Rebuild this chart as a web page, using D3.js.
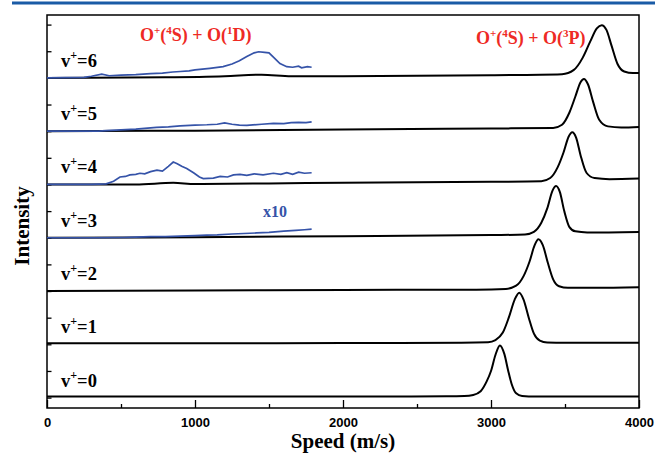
<!DOCTYPE html>
<html><head><meta charset="utf-8">
<script src="https://cdn.jsdelivr.net/npm/d3@7"></script>
<style>body{margin:0;background:#fff}svg{display:block}</style>
</head><body>
<svg id="c" width="655" height="454"></svg>
<script>
// ---------- DATA ----------
const levels = ["0","1","2","3","4","5","6"];
const xTicksMajor = [0,1000,2000,3000,4000];
const xTicksMinor = [500,1500,2500,3500];
// black traces: [speed, intensity above its own baseline]
const black0 = [[0,0.02],[1000,0.02],[2000,0.02],[2700,0.025],[2820,0.03],[2880,0.05],[2930,0.12],[2970,0.3],[3000,0.5],[3030,0.8],[3060,0.98],[3090,0.82],[3115,0.52],[3140,0.25],[3170,0.08],[3210,0.03],[3300,0.02],[4000,0.02]];
const black1 = [[0,0.02],[1000,0.02],[2000,0.025],[2800,0.03],[2980,0.04],[3030,0.08],[3080,0.22],[3120,0.5],[3160,0.84],[3191,0.97],[3220,0.84],[3255,0.5],[3290,0.2],[3330,0.07],[3380,0.035],[3500,0.03],[4000,0.03]];
const black2 = [[0,0.0],[1000,0.01],[2000,0.02],[2900,0.025],[3100,0.04],[3170,0.1],[3220,0.28],[3260,0.55],[3295,0.86],[3320,0.97],[3350,0.86],[3385,0.52],[3420,0.22],[3460,0.09],[3520,0.06],[3700,0.06],[4000,0.07]];
const black3 = [[0,0.0],[1000,0.01],[2000,0.03],[3000,0.05],[3230,0.06],[3290,0.11],[3340,0.28],[3380,0.55],[3415,0.88],[3440,0.97],[3465,0.86],[3495,0.5],[3530,0.2],[3570,0.12],[3650,0.1],[4000,0.11]];
const black4 = [[0,0.0],[600,0.0],[853,0.03],[1000,0.01],[1500,0.02],[2000,0.03],[3000,0.05],[3340,0.06],[3400,0.12],[3450,0.32],[3490,0.6],[3525,0.9],[3549,0.98],[3575,0.88],[3605,0.55],[3645,0.22],[3700,0.12],[3800,0.1],[4000,0.11]];
const black5 = [[0,0.0],[1000,0.01],[2000,0.03],[3000,0.05],[3420,0.06],[3480,0.12],[3530,0.35],[3570,0.65],[3605,0.92],[3628,0.98],[3655,0.88],[3690,0.55],[3730,0.22],[3790,0.09],[3880,0.07],[4000,0.08]];
const black6 = [[0,0.0],[800,0.01],[1200,0.03],[1450,0.06],[1650,0.03],[2000,0.03],[3000,0.05],[3480,0.07],[3560,0.15],[3620,0.38],[3670,0.68],[3715,0.93],[3748,0.99],[3780,0.9],[3815,0.6],[3855,0.26],[3900,0.12],[3960,0.09],[4000,0.09]];
const blackTraces = [black0,black1,black2,black3,black4,black5,black6];
// blue (x10) traces
const blue3 = [[0,0],[300,0.0],[515,0.005],[600,0.01],[700,0.02],[800,0.02],[900,0.03],[1000,0.04],[1079,0.05],[1150,0.055],[1250,0.07],[1330,0.08],[1417,0.09],[1500,0.1],[1600,0.125],[1680,0.14],[1740,0.15],[1788,0.16]];
const blue4 = [[0,0],[300,0.0],[400,0.01],[450,0.06],[493,0.14],[530,0.15],[560,0.18],[600,0.19],[628,0.21],[660,0.2],[700,0.24],[743,0.27],[780,0.25],[820,0.34],[853,0.42],[880,0.39],[910,0.34],[944,0.3],[990,0.22],[1030,0.14],[1056,0.11],[1124,0.12],[1170,0.15],[1220,0.14],[1260,0.18],[1304,0.19],[1350,0.17],[1400,0.2],[1460,0.18],[1530,0.21],[1580,0.19],[1620,0.22],[1660,0.19],[1700,0.23],[1740,0.21],[1788,0.22]];
const blue5 = [[0,0],[350,0.0],[400,0.01],[500,0.025],[600,0.04],[740,0.07],[820,0.08],[900,0.1],[1000,0.115],[1080,0.12],[1150,0.13],[1200,0.155],[1250,0.13],[1300,0.115],[1350,0.11],[1450,0.13],[1530,0.145],[1600,0.14],[1650,0.16],[1700,0.165],[1750,0.16],[1788,0.175]];
const blue6 = [[0,0],[250,0.01],[300,0.03],[370,0.07],[420,0.04],[500,0.05],[600,0.06],[700,0.08],[780,0.09],[850,0.11],[900,0.12],[960,0.13],[1000,0.15],[1100,0.18],[1190,0.21],[1250,0.26],[1300,0.32],[1350,0.4],[1400,0.47],[1430,0.49],[1470,0.48],[1500,0.47],[1540,0.36],[1574,0.27],[1620,0.21],[1660,0.2],[1700,0.22],[1720,0.19],[1760,0.21],[1788,0.2]];
const blueTraces = [[3,blue3],[4,blue4],[5,blue5],[6,blue6]];

// ---------- CHART ----------
const svg = d3.select("#c");
const x = d3.scaleLinear().domain([0,4000]).range([47,639]);
const y = d3.scaleLinear().domain([-0.195,7.18]).range([408,15]);

// top rule
svg.append("line").attr("x1",12).attr("x2",655).attr("y1",3).attr("y2",3)
  .attr("stroke","#1a5ba6").attr("stroke-width",3);

const g = svg.append("g");
// frame
g.append("rect").attr("x",x(0)).attr("y",y(7.18)).attr("width",x(4000)-x(0)).attr("height",y(-0.195)-y(7.18))
  .attr("fill","none").attr("stroke","#000").attr("stroke-width",1.5);

// bottom axis (ticks inward)
const xAxis = d3.axisBottom(x).tickValues(xTicksMajor).tickSize(-8).tickPadding(10).tickFormat(d3.format("d"));
const ax = g.append("g").attr("transform",`translate(0,${y(-0.195)})`).call(xAxis);
ax.select(".domain").remove();
ax.selectAll("line").attr("stroke","#000").attr("stroke-width",1.3);
ax.selectAll("text").attr("font-family","'Liberation Sans',Arial,sans-serif").attr("font-weight","bold").attr("font-size",13).attr("fill","#000");
const axm = g.append("g").attr("transform",`translate(0,${y(-0.195)})`).call(d3.axisBottom(x).tickValues(xTicksMinor).tickSize(-4).tickFormat(""));
axm.select(".domain").remove();
axm.selectAll("line").attr("stroke","#000").attr("stroke-width",1.3);

// left ticks (inward)
const yTicks = d3.range(0,7.01,0.5);
const ay = g.append("g").attr("transform",`translate(${x(0)},0)`).call(d3.axisLeft(y).tickValues(yTicks).tickSize(-4.5).tickFormat(""));
ay.select(".domain").remove();
ay.selectAll("line").attr("stroke","#000").attr("stroke-width",1.3);

// black traces
const line = (off) => d3.line().x(d=>x(d[0])).y(d=>y(off+d[1])).curve(d3.curveMonotoneX);
blackTraces.forEach((tr,i)=>{
  g.append("path").attr("d",line(i)(tr)).attr("fill","none").attr("stroke","#000").attr("stroke-width",2);
});
// blue traces
const lineB = (off) => d3.line().x(d=>x(d[0])).y(d=>y(off+d[1])).curve(d3.curveLinear);
blueTraces.forEach(([i,tr])=>{
  g.append("path").attr("d",lineB(i)(tr)).attr("fill","none").attr("stroke","#3553a8").attr("stroke-width",1.7);
});

// level labels
const serif = "'Liberation Serif','Times New Roman',serif";
levels.forEach((v,i)=>{
  const t = g.append("text").attr("x",61).attr("y",y(i)-11).attr("font-family",serif).attr("font-weight","bold").attr("font-size",18.5).attr("fill","#000");
  t.append("tspan").text("v");
  t.append("tspan").attr("dy",-8).attr("font-size",12).text("+");
  t.append("tspan").attr("dy",8).text("="+v);
});

// red product labels
function product(xp, yp, st){
  const t = g.append("text").attr("x",xp).attr("y",yp).attr("font-family",serif).attr("font-weight","bold").attr("font-size",18).attr("fill","#ee2a24");
  t.append("tspan").text("O");
  t.append("tspan").attr("dy",-7).attr("font-size",11).text("+");
  t.append("tspan").attr("dy",7).text("(");
  t.append("tspan").attr("dy",-7).attr("font-size",11).text("4");
  t.append("tspan").attr("dy",7).text("S) + O(");
  t.append("tspan").attr("dy",-7).attr("font-size",11).text(st[0]);
  t.append("tspan").attr("dy",7).text(st[1]+")");
}
product(140, 41, ["1","D"]);
product(476, 44, ["3","P"]);

// x10 label
g.append("text").attr("x",263).attr("y",217).attr("font-family",serif).attr("font-weight","bold").attr("font-size",16).attr("fill","#3553a8").text("x10");

// axis titles
svg.append("text").attr("x",343).attr("y",448).attr("text-anchor","middle").attr("font-family",serif).attr("font-weight","bold").attr("font-size",21).text("Speed (m/s)");
svg.append("text").attr("transform","translate(29,226) rotate(-90)").attr("text-anchor","middle").attr("font-family",serif).attr("font-weight","bold").attr("font-size",21).text("Intensity");
</script>
</body></html>
